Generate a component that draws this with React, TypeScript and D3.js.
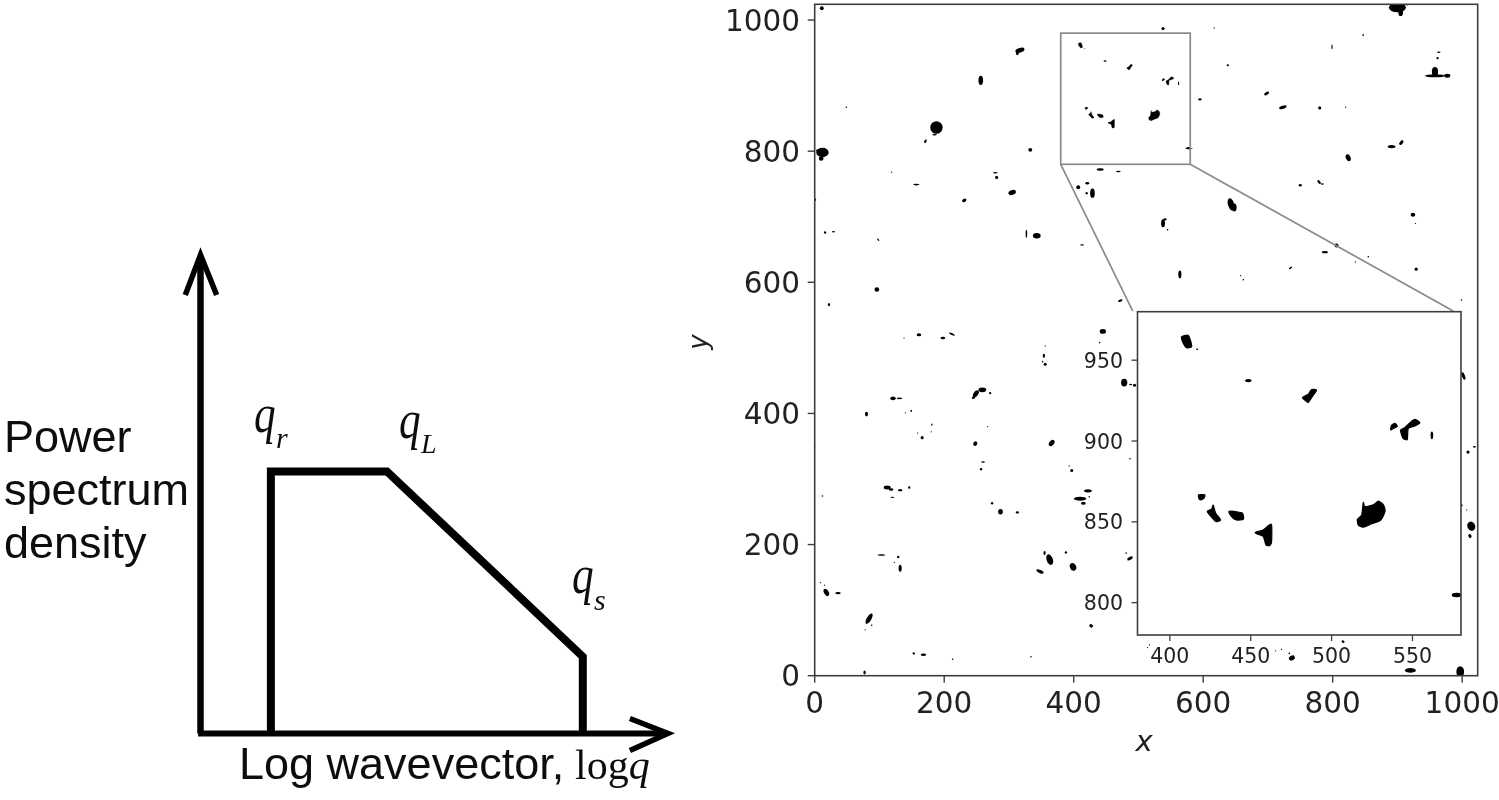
import React from "react";
import * as d3 from "d3";

// ---------- left schematic (normalised log q, log C) ----------
const spectrumLogQ = [0.148, 0.148, 0.392, 0.804, 0.804];
const spectrumLogC = [0, 0.542, 0.542, 0.159, 0];
const yArrowQ = [-0.032, 0, 0.034];
const yArrowC = [0.907, 0.99, 0.907];
const xArrowQ = [0.903, 0.983, 0.903];
const xArrowC = [0.031, 0, -0.035];
const psdLabelLines = ["Power", "spectrum", "density"];

// ---------- right panel ----------
const mainTicks = [0, 200, 400, 600, 800, 1000];
const insetXTicks = [400, 450, 500, 550];
const insetYTicks = [800, 850, 900, 950];
const zoomDomain = [380, 580];
const zoomRange = [780, 980];
const connectorEndX = [377, 575.2];
const connectorEndY = 980.5;

// contact patches inside the zoomed window, outlines [x, y]
const zoomOutlines: [number, number][][] = [
  [[519.6,862],[520.6,859.5],[525.8,860.5],[528.9,862.8],[532,860.5],[533,856.4],[530.3,851],[524.7,848.8],[519.6,846.7],[516.5,848],[516,851.6],[518.6,854.3]],
  [[407.2,964.4],[411.3,965.4],[413,961.3],[413.4,958.2],[410.3,957.8],[408.2,960.7]],
  [[482,927],[485.6,929],[487.6,931.9],[490.7,931.5],[488.7,928.4],[485.6,923.9],[483.5,925.3]],
  [[536.5,907],[537.1,909.7],[539.2,910.9],[540.6,909.1],[538.1,907.7]],
  [[542.7,906.8],[545.4,908.4],[548.5,911.3],[551.5,913.4],[554.6,911.3],[551.5,909.3],[547.4,907.8],[546.8,901],[544.3,901.6],[543.3,903.7]],
  [[417.9,866.7],[421.6,866.7],[421,864.6],[418.9,863.6],[417.9,864.6]],
  [[423.1,856.4],[425.8,857.8],[426.8,860.3],[428.3,855.4],[431.4,851.2],[428.5,850.2],[425.8,852.9]],
  [[436.5,856.4],[440.2,856.4],[444.9,855.3],[445.4,851.6],[441.2,851.2],[438.1,853.3]],
  [[453,843.6],[457.7,845],[460.8,847.5],[462.9,848.1],[462.9,837.9],[461.9,835.4],[459.4,835.8],[457.7,841],[453.6,842.6]],
];
// small patches inside the zoomed window: x, y, rx, ry
const zoomSpecks: number[][] = [
  [416.9,956.8,0.7,0.5],[448.5,937.4,2,1],[562,903.5,0.8,2.4],[577.3,804.7,3,1.4],
];
// contact patches over the whole map: x, y, rx, ry, angle
const mapSpecks: number[][] = [
  [11,1018,2.5,2.5],[317,954,6,3,-15],[313,950,2,3],[256.5,908,3,6],[49,867,1,1],[188,836,8,8],[185,825,3,1],[171,815,1.5,2.5,25],
  [12,798,8,6],[10,789,3,3],[7,801,4,2],[333,802,2.5,2.5],[119,768,.8,.8],[279,767,3,1],[281,760,2,2],[305,737,5,3,-20],[157,749,4,1],
  [231,725,3,2,-30],[.5,726,1.5,1.5],[16,676,1.5,1.5],[29,677,2,1],[98,665,2,.8,45],[327,674,1,5],[343,671,5,3.5],[413,657,2.5,.8],
  [96,589,3,3],[22,566,1.5,2],[472,572,3,1.5,-20],[445,525,4,3],[161,520,3,2],[198,515,3,1.5],[212,521,4,1.2,25],[138,515,.8,.8],
  [441,772,4.5,1.5],[469,769,3,1],[407,745,2.5,2.5],[421,751,2.5,1.5],[420,736,1.5,1.5],[429,736,3,6],
  [538,987,2,2],[617,988,.8,.8],[638,931,1.5,1.2],[595,879,2,1.5],[578,804,5,.8],[847,977,.8,1.6],[799,959,.8,3],
  [964,951,2.2,1],[962,942,1.5,1.5],[958,915,13,2],[958,921,4,6],[977,915,4,2.5],[900,1019,11,6],[905,1012,3,5],[915,1023,.8,.8],
  [698,888,3.5,1.8,-30],[723,867,5,2,-20],[780,866,2,2],[820,867,.8,.8],[891,807,5,2],[906,813,2,3.5,40],[824,790,3,4.5,-25],
  [750,748,2,1.5],[779,753,1.5,3,-40],[784,750,2,1],[643,719,4,8,-15],[648,714,3,5],[538,690,2.5,5],[541,696,2,1.5],[545,680,1,1],
  [924,703,3,2.5],[928,690,.8,.8],[564,612,2,5],[788,646,4,1.5],[806,656,2.5,2.5],[855,639,1,1],[835,631,.8,.8],[735,622,2.5,1,-35],
  [658,610,.8,.8],[662,604,1,1],[929,620,2,2],[999,573,1,1],
  [356,503,.8,.8],[440,508,1,1],[354,488,1.5,2.5],[352,479,1,1],[356,475,2,2],[121,423,3.5,2.5],[131,423,3.5,1.2],
  [80,399,2,3],[149,404,1,1.5],[140,401,.8,.8],[181,383,.8,1.5],[180,372,.8,.8],[159,370,.8,.8],[166,363,2,2],[0,349,.8,.8],
  [249,430,3,5,35],[259,436,5,3],[271,431,1.5,1.5],[245,424,2,1.5],[267,380,.8,.8],[248,354,2.5,3,35],[366,355,3,4.5,40],
  [260,326,2.5,1],[257,315,1.5,1.5],[393,320,.8,.8],[397,313,2,2],[487,331,1,1],[422,282,5,2],[424,273,1,1],[410,270,8,2.5],[415,263,3,2],
  [12,274,1,1],[112,287,4.5,2.5],[118,284,3,1.5],[132,283,2.5,1.5],[146,287,1.5,1.5],[120,272,2.5,.8],[274,263,1.5,1.5],[287,250,3,3.5],[313,249,2,1.5],
  [355,187,1.5,2.5],[363,177,4,7,-20],[388,188,1.5,1.5],[399,166,4,5,-25],[348,159,5,2,25],[481,187,1,1],[487,179,4,2,-30],
  [103,184,5,1],[129,181,1.5,1.5],[123,173,.8,.8],[132,164,2,4.5],[9,142,.8,.8],[15,138,.8,.8],[18,127,3,5,-30],[36,126,3.5,1.5],
  [84,87,3,7.5,30],[88,77,1,1],[78,70,.8,.8],[427,76,2.5,2,30],[153,34,1.5,1.5],[168,32,3.5,1.5],[213,25,1,1],[334,29,1,1],[77,5,1.5,2.5],[514,43,.8,.8],
  [1002,457,2,5,-20],[1009,341,2,2],[1019,349,2,1],[999,260,1.5,1.2],[1007,253,.8,.8],[1014,228,5,6,-25],[1012,213,2,2.5,-30],
  [478,447,4,5],[488,444,2,1],[494,443,2,2],[517,47,.8,.8],[712,38,.8,.8],[721,40,.8,.8],[737,27,4,3,-30],[733,34,1,1],[816,52,2,1.5,30],[920,8,7,3],[997,6,5,7],
];

const W = 1499, H = 800;
// schematic scales
const sx = d3.scaleLinear().domain([0, 1]).range([200.5, 676]);
const sy = d3.scaleLinear().domain([0, 1]).range([733.5, 250]);
// main map scales
const mx = d3.scaleLinear().domain([0, 1024]).range([814.7, 1477.7]);
const my = d3.scaleLinear().domain([0, 1024]).range([675.7, 4.3]);
// inset scales
const ix = d3.scaleLinear().domain(zoomDomain).range([1137.5, 1461]);
const iy = d3.scaleLinear().domain(zoomRange).range([635, 311.7]);

type S = d3.ScaleLinear<number, number>;
const schematic = d3.line<number>().x((d) => sx(spectrumLogQ[d])).y((d) => sy(spectrumLogC[d]));
const polyline = (qs: number[], cs: number[]) =>
  d3.line<number>().x((d) => sx(qs[d])).y((d) => sy(cs[d]))(d3.range(qs.length)) as string;

function Patches({ x, y, specks, clip, grow, edge }: { x: S; y: S; specks: number[][]; clip: string; grow: number; edge: number }) {
  const outline = d3.line<[number, number]>().x((d) => x(d[0])).y((d) => y(d[1])).curve(d3.curveCardinalClosed.tension(0.3));
  const kx = Math.abs(x(1) - x(0)) * grow;
  const ky = Math.abs(y(1) - y(0)) * grow;
  return (
    <g clipPath={`url(#${clip})`} fill="#000" stroke="#000" strokeWidth={edge} strokeLinejoin="round">
      {specks.map((s, i) => (
        <ellipse key={i} cx={x(s[0])} cy={y(s[1])} rx={s[2] * kx} ry={s[3] * ky} stroke="none"
          transform={s[4] ? `rotate(${s[4]} ${x(s[0])} ${y(s[1])})` : undefined} />
      ))}
      {zoomSpecks.map((s, i) => (
        <ellipse key={"z" + i} cx={x(s[0])} cy={y(s[1])} rx={s[2] * kx} ry={s[3] * ky} stroke="none" />
      ))}
      {zoomOutlines.map((o, i) => <path key={"o" + i} d={outline(o) as string} />)}
    </g>
  );
}

const sans = "'DejaVu Sans'";
const ink = "#222";
const frame = "#3c3c3c";

function QSymbol({ x, y }: { x: number; y: number }) {
  return <text transform={`translate(${x},${y}) scale(0.8,1)`} fontSize={54} fontStyle="italic">q</text>;
}

export default function App() {
  return (
    <svg width={W} height={H} viewBox={`0 0 ${W} ${H}`}
      style={{ position: "absolute", left: 0, top: 0, display: "block", background: "#fff" }}>
      <defs>
        <clipPath id="mainClip"><rect x={mx(0)} y={my(1024)} width={mx(1024) - mx(0)} height={my(0) - my(1024)} /></clipPath>
        <clipPath id="insetClip"><rect x={ix(380)} y={iy(980)} width={ix(580) - ix(380)} height={iy(780) - iy(980)} /></clipPath>
        <filter id="soft" x="-2%" y="-2%" width="104%" height="104%"><feGaussianBlur stdDeviation="0.45" /></filter>
      </defs>
      <g filter="url(#soft)">
        {/* schematic */}
        <g fill="none" stroke="#000">
          <path d={polyline([0, 0], [0, 0.98])} strokeWidth={6.5} />
          <path d={polyline([-0.005, 0.98], [0, 0])} strokeWidth={6} />
          <path d={polyline(yArrowQ, yArrowC)} strokeWidth={5.5} strokeLinejoin="miter" />
          <path d={polyline(xArrowQ, xArrowC)} strokeWidth={5.5} strokeLinejoin="miter" />
          <path d={schematic(d3.range(spectrumLogQ.length)) as string} strokeWidth={8} strokeLinejoin="miter" />
        </g>
        <g fontFamily="'Liberation Sans'" fontSize={45} fill="#111">
          {psdLabelLines.map((t, i) => <text key={t} x={4} y={452 + i * 53}>{t}</text>)}
          <text x={239} y={779}>Log wavevector,</text>
        </g>
        <g fontFamily="'Liberation Serif'" fill="#111">
          <text x={575} y={779} fontSize={42}>log<tspan fontStyle="italic">q</tspan></text>
          <QSymbol x={254} y={432} />
          <text x={276} y={448} fontSize={30} fontStyle="italic">r</text>
          <QSymbol x={399} y={438} />
          <text x={421} y={453} fontSize={28} fontStyle="italic">L</text>
          <QSymbol x={572} y={593} />
          <text x={594} y={610} fontSize={30} fontStyle="italic">s</text>
        </g>

        {/* main map */}
        <Patches x={mx} y={my} specks={mapSpecks} clip="mainClip" grow={1.2} edge={0.4} />
        <rect x={mx(0)} y={my(1024)} width={mx(1024) - mx(0)} height={my(0) - my(1024)} fill="none" stroke={frame} strokeWidth={1.6} />
        {mainTicks.map((t) => (
          <g key={"x" + t}>
            <line x1={mx(t)} x2={mx(t)} y1={my(0)} y2={my(0) + 7} stroke={frame} strokeWidth={1.4} />
            <text x={mx(t)} y={712.5} textAnchor="middle" fontFamily={sans} fontSize={29.5} fill={ink}>{t}</text>
          </g>
        ))}
        {mainTicks.map((t) => (
          <g key={"y" + t}>
            <line x1={mx(0) - 7} x2={mx(0)} y1={my(t)} y2={my(t)} stroke={frame} strokeWidth={1.4} />
            <text x={800} y={my(t) + 10.5} textAnchor="end" fontFamily={sans} fontSize={29.5} fill={ink}>{t}</text>
          </g>
        ))}
        <text x={1144} y={751} textAnchor="middle" fontFamily={sans} fontStyle="italic" fontSize={29} fill={ink}>x</text>
        <text transform="translate(707,342) rotate(-90)" textAnchor="middle" fontFamily={sans} fontStyle="italic" fontSize={26} fill={ink}>y</text>

        {/* zoom indicator */}
        <rect x={mx(zoomDomain[0])} y={my(zoomRange[1])} width={mx(zoomDomain[1]) - mx(zoomDomain[0])}
          height={my(zoomRange[0]) - my(zoomRange[1])} fill="none" stroke="#8a8a8a" strokeWidth={1.7} />
        <line x1={mx(zoomDomain[0])} y1={my(zoomRange[0])} x2={ix(connectorEndX[0])} y2={iy(connectorEndY)} stroke="#8a8a8a" strokeWidth={1.7} />
        <line x1={mx(zoomDomain[1])} y1={my(zoomRange[0])} x2={ix(connectorEndX[1])} y2={iy(connectorEndY)} stroke="#8a8a8a" strokeWidth={1.7} />

        {/* inset */}
        <rect x={ix(380)} y={iy(980)} width={ix(580) - ix(380)} height={iy(780) - iy(980)} fill="#fff" />
        <Patches x={ix} y={iy} specks={[]} clip="insetClip" grow={1} edge={1.2} />
        <rect x={ix(380)} y={iy(980)} width={ix(580) - ix(380)} height={iy(780) - iy(980)} fill="none" stroke={frame} strokeWidth={1.6} />
        {insetXTicks.map((t) => (
          <g key={"ix" + t}>
            <line x1={ix(t)} x2={ix(t)} y1={iy(780)} y2={iy(780) + 6} stroke={frame} strokeWidth={1.3} />
            <text x={ix(t)} y={663} textAnchor="middle" fontFamily={sans} fontSize={20.5} fill={ink}>{t}</text>
          </g>
        ))}
        {insetYTicks.map((t) => (
          <g key={"iy" + t}>
            <line x1={ix(380) - 6} x2={ix(380)} y1={iy(t)} y2={iy(t)} stroke={frame} strokeWidth={1.3} />
            <text x={1123} y={iy(t) + 7.5} textAnchor="end" fontFamily={sans} fontSize={20.5} fill={ink}>{t}</text>
          </g>
        ))}
      </g>
    </svg>
  );
}
